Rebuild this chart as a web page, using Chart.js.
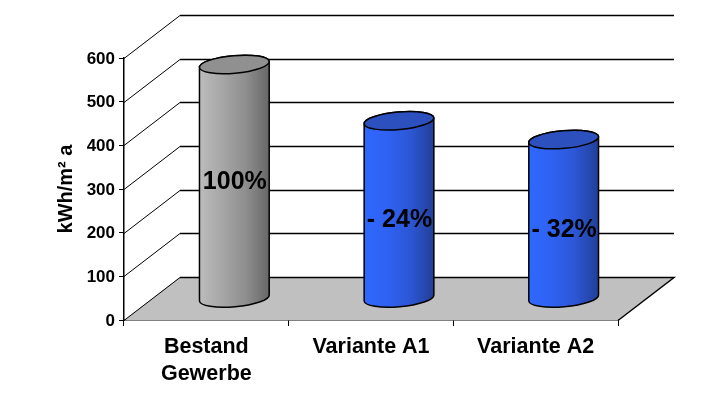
<!DOCTYPE html>
<html>
<head>
<meta charset="utf-8">
<style>
  html, body { margin: 0; padding: 0; background: #fff; }
  canvas { display: block; }
</style>
<script src="https://cdn.jsdelivr.net/npm/chart.js@4/dist/chart.umd.min.js"></script>
</head>
<body>
<canvas id="chart" width="720" height="405"></canvas>
<script>
const categories = [['Bestand', 'Gewerbe'], 'Variante A1', 'Variante A2'];
const energyValues = [536, 407, 364];
const barLabels = ['100%', '- 24%', '- 32%'];
const yTicks = [0, 100, 200, 300, 400, 500, 600];

// 3D-Tiefe der Kulisse in Pixeln
const depthX = 56;
const depthY = 43;

const cylinderStyles = [
  { stops: ['#bcbcbc', '#a6a6a6', '#8e8e8e', '#676767'], top: '#909090' },
  { stops: ['#2f68ff', '#2f62f2', '#2c56d4', '#223f97'], top: '#2c50bd' },
  { stops: ['#2f68ff', '#2f62f2', '#2c56d4', '#223f97'], top: '#2c50bd' }
];

// Rückwand und Boden
const backdrop = {
  id: 'backdrop',
  beforeDatasetsDraw(chart) {
    const { ctx, scales: { x, y } } = chart;
    const y0 = y.getPixelForValue(0);
    ctx.save();
    ctx.fillStyle = '#c0c0c0';
    ctx.beginPath();
    ctx.moveTo(x.left, y0);
    ctx.lineTo(x.left + depthX, y0 - depthY);
    ctx.lineTo(x.right + depthX, y0 - depthY);
    ctx.lineTo(x.right, y0);
    ctx.closePath();
    ctx.fill();

    ctx.strokeStyle = '#000';
    yTicks.forEach(v => {
      const py = Math.round(y.getPixelForValue(v)) + 0.5;
      ctx.lineWidth = 1;
      ctx.beginPath();
      ctx.moveTo(x.left, py);
      ctx.lineTo(x.left + depthX, py - depthY);
      ctx.stroke();
      ctx.lineWidth = 1.5;
      ctx.beginPath();
      ctx.moveTo(x.left + depthX, py - depthY);
      ctx.lineTo(x.right + depthX, py - depthY);
      if (v === 0) ctx.lineTo(x.right, py);
      ctx.stroke();
    });
    ctx.restore();
  }
};

// Zylinder aus den Bar-Elementen zeichnen
const cylinders = {
  id: 'cylinders',
  afterDatasetsDraw(chart, args, opts) {
    const { ctx, scales: { y } } = chart;
    const rot = -5 * Math.PI / 180;
    chart.getDatasetMeta(0).data.forEach((bar, i) => {
      const cx = bar.x + depthX / 2;
      const rx = bar.width / 2;
      const ry = 8.8;
      const top = bar.y - depthY / 2;
      const base = y.getPixelForValue(0) - depthY / 2;
      const style = cylinderStyles[i];

      const grad = ctx.createLinearGradient(cx - rx, 0, cx + rx, 0);
      style.stops.forEach((c, k) => grad.addColorStop(k / (style.stops.length - 1), c));

      ctx.save();
      ctx.strokeStyle = '#000';
      ctx.lineWidth = 1.5;
      ctx.fillStyle = grad;
      ctx.beginPath();
      ctx.ellipse(cx, base - 0.5, rx, ry, rot, 0, Math.PI);
      ctx.ellipse(cx, top, rx, ry, rot, Math.PI, Math.PI * 2);
      ctx.closePath();
      ctx.fill();
      ctx.stroke();

      ctx.fillStyle = style.top;
      ctx.beginPath();
      ctx.ellipse(cx, top, rx, ry, rot, 0, Math.PI * 2);
      ctx.fill();
      ctx.stroke();

      ctx.fillStyle = '#000';
      ctx.font = 'bold 25px "Liberation Sans"';
      ctx.textAlign = 'center';
      ctx.textBaseline = 'middle';
      ctx.fillText(barLabels[i], cx + 0.5, (top + base) / 2 + opts.labelOffsets[i]);
      ctx.restore();
    });
  }
};

new Chart(document.getElementById('chart'), {
  type: 'bar',
  data: {
    labels: categories,
    datasets: [{
      data: energyValues,
      backgroundColor: 'transparent',
      borderWidth: 0,
      barPercentage: 0.425,
      categoryPercentage: 1
    }]
  },
  plugins: [backdrop, cylinders],
  options: {
    responsive: false,
    animation: false,
    devicePixelRatio: 1,
    layout: { padding: { left: 54, top: 58, right: 102, bottom: 0 } },
    plugins: {
      legend: { display: false },
      tooltip: { enabled: false },
      title: { display: false },
      cylinders: { labelOffsets: [1, 10, 11] }
    },
    scales: {
      x: {
        afterFit: scale => { scale.height = 85; },
        grid: {
          drawOnChartArea: false,
          color: '#000',
          tickLength: 6
        },
        border: { color: '#000', width: 1.5 },
        ticks: {
          color: '#000',
          maxRotation: 0,
          autoSkip: false,
          padding: 8,
          font: { family: 'Liberation Sans', weight: 'bold', size: 21.5, lineHeight: 1.24 }
        }
      },
      y: {
        min: 0,
        max: 600,
        afterFit: scale => { scale.width = 70; },
        afterBuildTicks: scale => { scale.ticks = yTicks.map(v => ({ value: v })); },
        grid: {
          drawOnChartArea: false,
          color: '#000',
          tickLength: 5
        },
        border: { color: '#000', width: 1.5 },
        title: {
          display: true,
          text: 'kWh/m² a',
          color: '#000',
          padding: 0,
          font: { family: 'Liberation Sans', weight: 'bold', size: 20 }
        },
        ticks: {
          color: '#000',
          padding: 4,
          labelOffset: 1,
          font: { family: 'Liberation Sans', weight: 'bold', size: 17 }
        }
      }
    }
  }
});
</script>
</body>
</html>
